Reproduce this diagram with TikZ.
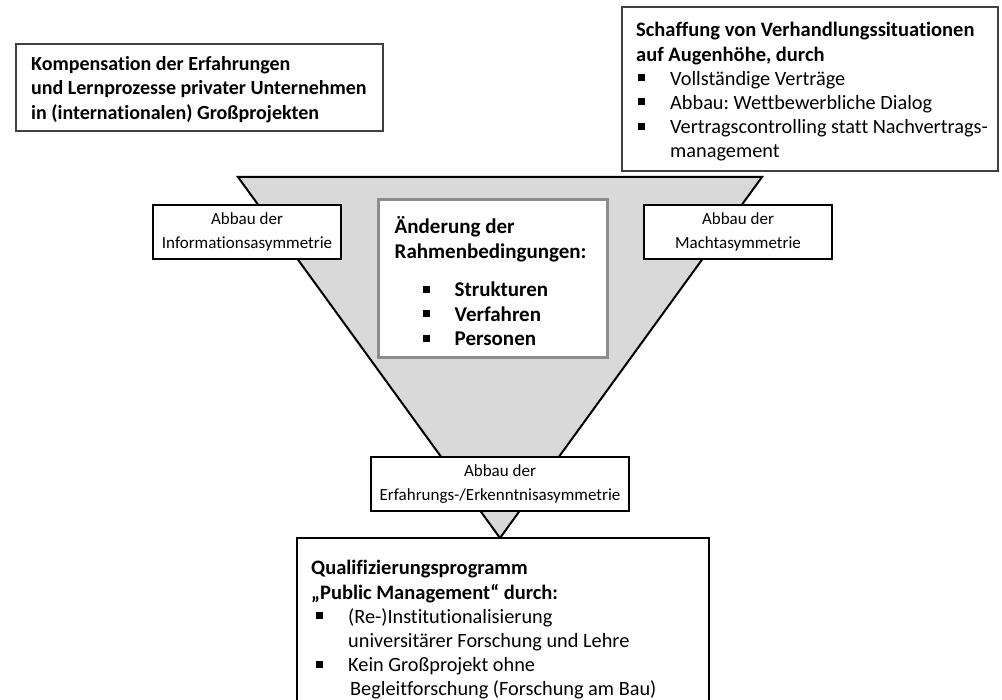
\documentclass[tikz,border=0pt]{standalone}
\usepackage{fontspec}
\setmainfont{Carlito}[Ligatures=NoCommon]
\frenchspacing
\newcommand\sqbul{\raisebox{0.2em}{\rule{7pt}{7pt}}}
\newcommand\bitem[1]{\hspace*{#1}\makebox[32pt][l]{\sqbul}}
\begin{document}
\begin{tikzpicture}[x=1pt,y=-1pt,
  framebox/.style={draw=black!75, line width=1.2pt, fill=white, rectangle,
    outer sep=0pt, inner sep=0pt},
  labelbox/.style={draw=black, line width=2pt, fill=white, rectangle,
    outer sep=0pt, inner sep=0pt, align=center,
    font=\fontsize{17}{24}\selectfont},
  corebox/.style={draw=black!45, line width=2.5pt, fill=white, rectangle,
    outer sep=0pt, inner sep=0pt},
  bodytext/.style={anchor=west, align=left, inner sep=0pt,
    font=\fontsize{20.3}{24.2}\selectfont},
  headtext/.style={bodytext, font=\fontsize{20}{24.5}\selectfont\bfseries},
  coretext/.style={bodytext, font=\fontsize{21}{24.5}\selectfont\bfseries}]
\useasboundingbox (0,0) rectangle (1002,700);

% inverted triangle
\coordinate (tl) at (238,177);
\coordinate (tr) at (762,177);
\coordinate (apex) at (500,538);
\filldraw[fill=black!15, draw=black, line width=2pt, line join=miter]
  (tl) -- (tr) -- (apex) -- cycle;

% upper left box
\node[framebox, minimum width=367pt, minimum height=87pt] (komp) at (199.5,87.5) {};
\node[headtext] (kompt) at ([xshift=15pt,yshift=-2pt]komp.west)
  {Kompensation der Erfahrungen\\
   und Lernprozesse privater Unternehmen\\
   in (internationalen) Großprojekten};

% upper right box
\node[framebox, minimum width=376pt, minimum height=164pt] (verh) at (810,89) {};
\node[bodytext] (verht) at ([xshift=14pt,yshift=-3pt]verh.west)
  {{\bfseries\fontsize{20.5}{24}\selectfont Schaffung von Verhandlungssituationen}\\
   {\bfseries\fontsize{20.5}{24}\selectfont auf Augenhöhe, durch}\\
   \bitem{2pt}Vollständige Verträge\\
   \bitem{2pt}Abbau: Wettbewerbliche Dialog\\
   \bitem{2pt}Vertragscontrolling statt Nachvertrags-\\
   \hspace*{34pt}management};

% labels on the triangle
\node[labelbox, minimum width=188pt, minimum height=54pt]
  (info) at (247,232) {Abbau der\\Informationsasymmetrie};
\node[labelbox, minimum width=188pt, minimum height=54pt]
  (macht) at (738,232) {Abbau der\\Machtasymmetrie};
\node[labelbox, minimum width=258pt, minimum height=54pt]
  (erf) at (500,484) {Abbau der\\Erfahrungs-/Erkenntnisasymmetrie};

% central box
\node[corebox, minimum width=229pt, minimum height=158pt] (rahmen) at (493,278.5) {};
\node[coretext] (rahment) at ([xshift=16pt,yshift=-3pt]rahmen.west)
  {Änderung der\\
   Rahmenbedingungen:\\[14pt]
   \bitem{28pt}Strukturen\\
   \bitem{28pt}Verfahren\\
   \bitem{28pt}Personen};

% bottom box
\node[framebox, draw=black, anchor=north, minimum width=412pt,
  minimum height=188pt] (quali) at (503,538) {};
\node[bodytext] (qualit) at ([xshift=14pt,yshift=2pt]quali.west)
  {{\bfseries\fontsize{20.5}{24}\selectfont Qualifizierungsprogramm}\\
   {\bfseries\fontsize{20.5}{24}\selectfont „Public Management“ durch:}\\
   \bitem{5pt}(Re-)Institutionalisierung\\
   \hspace*{37pt}universitärer Forschung und Lehre\\
   \bitem{5pt}Kein Großprojekt ohne\\
   \hspace*{39pt}Begleitforschung (Forschung am Bau)};
\end{tikzpicture}
\end{document}
